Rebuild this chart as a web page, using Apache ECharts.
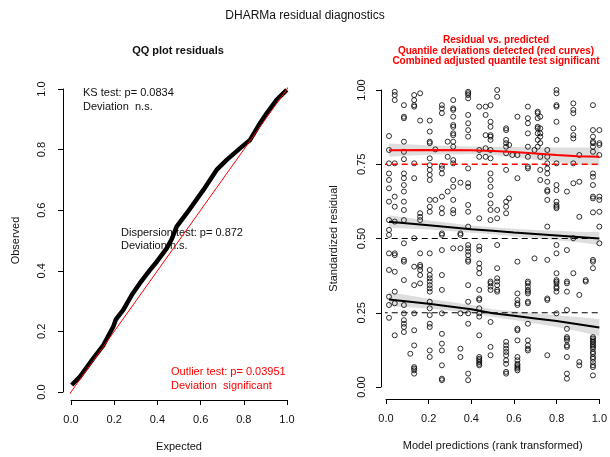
<!DOCTYPE html>
<html>
<head>
<meta charset="utf-8">
<script src="https://cdn.jsdelivr.net/npm/echarts@6/dist/echarts.min.js"></script>
<style>
  html, body { margin: 0; padding: 0; background: #fff; }
  #chart { width: 610px; height: 457px; }
</style>
</head>
<body>
<div id="chart"></div>
<script>
// QQ plot: expected vs observed quantiles
const qqExpected = [0.003, 0.042, 0.103, 0.150, 0.196, 0.208, 0.242, 0.281, 0.319, 0.366, 0.397, 0.443,
  0.466, 0.489, 0.536, 0.613, 0.674, 0.721, 0.782, 0.829, 0.875, 0.906, 0.952, 0.999];
const qqObserved = [0.023, 0.051, 0.111, 0.155, 0.216, 0.240, 0.271, 0.320, 0.359, 0.403, 0.430, 0.474,
  0.504, 0.546, 0.590, 0.667, 0.733, 0.766, 0.804, 0.832, 0.887, 0.920, 0.964, 0.997];
const refLine = [-0.03, 1.04];

// residual vs predicted: columns of tied rank-transformed predictions
const colX = [0.014, 0.041, 0.084, 0.114, 0.132, 0.160, 0.205, 0.231, 0.262, 0.289, 0.315, 0.349, 0.385,
  0.437, 0.467, 0.490, 0.521, 0.563, 0.577, 0.592, 0.616, 0.665, 0.696, 0.711, 0.723, 0.756, 0.799,
  0.848, 0.878, 0.906, 0.936, 0.970, 1.000];
const colY = [
  [0.845, 0.798, 0.753, 0.719, 0.697, 0.669, 0.624, 0.562, 0.529, 0.512, 0.450, 0.394, 0.304, 0.276, 0.233],
  [0.994, 0.983, 0.966, 0.753, 0.641, 0.607, 0.557, 0.450, 0.444, 0.388, 0.321, 0.282, 0.174],
  [0.949, 0.910, 0.905, 0.826, 0.792, 0.767, 0.719, 0.703, 0.680, 0.658, 0.624, 0.596, 0.562, 0.484, 0.428, 0.422, 0.360, 0.276, 0.248, 0.225, 0.213, 0.202, 0.185],
  [0.112],
  [0.983, 0.966, 0.949, 0.944, 0.753, 0.703, 0.501, 0.405, 0.343, 0.248, 0.191, 0.140, 0.067, 0.062, 0.056, 0.045],
  [0.989, 0.897, 0.585, 0.573, 0.562, 0.450, 0.411, 0.405, 0.394, 0.377, 0.349],
  [0.897, 0.860, 0.826, 0.821, 0.770, 0.747, 0.731, 0.714, 0.697, 0.630, 0.607, 0.590, 0.450, 0.394, 0.377, 0.366, 0.355, 0.343, 0.332, 0.321, 0.287, 0.265, 0.242, 0.213, 0.202, 0.123, 0.101],
  [0.800, 0.630],
  [0.949, 0.938, 0.922, 0.745, 0.736, 0.719, 0.641, 0.602, 0.585, 0.517, 0.512, 0.461, 0.377, 0.327, 0.248, 0.179, 0.146, 0.123, 0.073, 0.028, 0.023],
  [0.826, 0.775, 0.658],
  [0.966, 0.938, 0.933, 0.910, 0.882, 0.876, 0.854, 0.848, 0.826, 0.809, 0.764, 0.753, 0.697, 0.674, 0.630, 0.596, 0.585, 0.467],
  [0.688, 0.517, 0.512, 0.467, 0.248, 0.129, 0.101],
  [0.994, 0.989, 0.983, 0.972, 0.916, 0.888, 0.865, 0.843, 0.736, 0.686, 0.674, 0.613, 0.590, 0.540, 0.478, 0.467, 0.456, 0.444, 0.428, 0.422, 0.343, 0.287, 0.248, 0.213, 0.045, 0.023],
  [0.944, 0.798, 0.775, 0.568, 0.473, 0.461, 0.416, 0.400, 0.383, 0.327, 0.298, 0.293, 0.265, 0.248, 0.237, 0.174, 0.101, 0.095, 0.090, 0.084, 0.078, 0.073],
  [0.944, 0.916, 0.848, 0.804, 0.775],
  [0.949, 0.893, 0.876, 0.848, 0.843, 0.832, 0.798, 0.770, 0.719, 0.697, 0.674, 0.646, 0.618, 0.596, 0.562, 0.355, 0.349, 0.338, 0.327, 0.219, 0.135, 0.107],
  [1.000, 0.977, 0.596, 0.568, 0.478, 0.400, 0.366, 0.355, 0.343, 0.327, 0.321],
  [0.871, 0.865, 0.832, 0.821, 0.809, 0.787, 0.731, 0.624, 0.607, 0.585, 0.152, 0.140, 0.129, 0.118, 0.107, 0.090, 0.078, 0.051, 0.045],
  [0.815, 0.635],
  [0.781],
  [0.910, 0.781, 0.703, 0.422, 0.315, 0.293, 0.282, 0.276, 0.196, 0.191, 0.157, 0.101, 0.090, 0.078, 0.073, 0.067, 0.062, 0.056],
  [0.944, 0.905, 0.888, 0.854, 0.809, 0.775, 0.742, 0.736, 0.355, 0.349, 0.338, 0.327, 0.321, 0.315, 0.287, 0.282, 0.213, 0.157, 0.140, 0.129, 0.123],
  [0.798, 0.433],
  [0.927, 0.922, 0.905, 0.876, 0.871, 0.854, 0.832, 0.809],
  [0.910, 0.871, 0.854, 0.843, 0.821, 0.775, 0.731, 0.697],
  [0.798, 0.775, 0.753, 0.736, 0.719, 0.691, 0.663, 0.658, 0.630, 0.540, 0.428, 0.298, 0.293, 0.107],
  [1.000, 0.989, 0.949, 0.944, 0.893, 0.832, 0.753, 0.680, 0.663, 0.624, 0.613, 0.607, 0.602, 0.478, 0.450, 0.383, 0.360, 0.355, 0.349, 0.338, 0.332, 0.321, 0.248],
  [0.658, 0.461, 0.355, 0.349, 0.321, 0.259, 0.196, 0.168, 0.163, 0.157, 0.140, 0.135, 0.101, 0.045, 0.028],
  [0.955, 0.933, 0.922, 0.871, 0.848, 0.837, 0.753, 0.686, 0.501, 0.383],
  [0.781, 0.691, 0.573, 0.310, 0.084, 0.073],
  [0.360, 0.355],
  [0.949, 0.865, 0.843, 0.826, 0.821, 0.809, 0.792, 0.719, 0.708, 0.680, 0.641, 0.635, 0.588, 0.428, 0.422, 0.400, 0.168, 0.163, 0.157, 0.152, 0.146, 0.140, 0.135, 0.129, 0.118, 0.112, 0.101, 0.095, 0.084, 0.073, 0.067, 0.039],
  [0.865, 0.821, 0.815, 0.781, 0.641, 0.630, 0.590, 0.540, 0.484]
];

// fitted quantile curves with their bands
const quantX = [0.014, 0.2, 0.4, 0.5, 0.6, 0.7, 0.8, 0.9, 1.0];
const q75Fit = [0.797, 0.798, 0.797, 0.795, 0.791, 0.786, 0.781, 0.777, 0.775];
const q75Lo = [0.775, 0.782, 0.784, 0.781, 0.774, 0.765, 0.757, 0.750, 0.745];
const q75Hi = [0.820, 0.814, 0.810, 0.809, 0.808, 0.807, 0.806, 0.806, 0.806];
const q50Fit = [0.556, 0.545, 0.531, 0.526, 0.520, 0.515, 0.510, 0.505, 0.500];
const q50Lo = [0.536, 0.530, 0.519, 0.514, 0.507, 0.501, 0.494, 0.487, 0.478];
const q50Hi = [0.578, 0.561, 0.544, 0.538, 0.533, 0.529, 0.526, 0.523, 0.522];
const q25Fit = [0.295, 0.280, 0.262, 0.248, 0.240, 0.231, 0.222, 0.211, 0.200];
const q25Lo = [0.272, 0.264, 0.249, 0.236, 0.226, 0.214, 0.202, 0.188, 0.172];
const q25Hi = [0.320, 0.297, 0.276, 0.262, 0.255, 0.248, 0.242, 0.236, 0.229];
const hLines = [0.25, 0.5, 0.75];
const hRange = [-0.02, 1.04];

const FONT = '"Liberation Sans", Arial, Helvetica, sans-serif';
const INK = '#111';
const RED = '#ff0000';

const chart = echarts.init(document.getElementById('chart'));

function axisBase(grid, offset, margin, digits, name, gap) {
  return {
    gridIndex: grid,
    type: 'value',
    min: 0,
    max: 1,
    offset: offset,
    name: name,
    nameLocation: 'middle',
    nameGap: gap,
    nameTextStyle: { color: INK, fontSize: 11, fontFamily: FONT },
    axisLine: { show: true, onZero: false, lineStyle: { color: '#000', width: 1 } },
    axisTick: { show: true, length: 5, lineStyle: { color: '#000' } },
    axisLabel: {
      margin: margin, color: INK, fontSize: 11, fontFamily: FONT,
      formatter: v => v.toFixed(digits)
    },
    splitLine: { show: false }
  };
}

// grey confidence band drawn as a polygon through the axis scales
function band(lo, hi) {
  return {
    type: 'custom', xAxisIndex: 1, yAxisIndex: 1, silent: true, z: 3,
    data: [[quantX[0], lo[0]]],
    renderItem: (params, api) => {
      const upper = quantX.map((x, i) => api.coord([x, hi[i]]));
      const lower = quantX.map((x, i) => api.coord([x, lo[i]])).reverse();
      return {
        type: 'polygon',
        shape: { points: upper.concat(lower) },
        style: { fill: 'rgba(0,0,0,0.13)' }
      };
    }
  };
}

function curve(fit, color) {
  return {
    type: 'line', xAxisIndex: 1, yAxisIndex: 1, symbol: 'none', z: 5,
    lineStyle: { color: color, width: 2 },
    data: quantX.map((x, i) => [x, fit[i]])
  };
}

const scatterData = colX.flatMap((x, i) => colY[i].map(y => [x, y]));

const xL = axisBase(0, 8, 14, 1, 'Expected', 41);
xL.interval = 0.2;
const yL = axisBase(0, 8, 16, 1, 'Observed', 42);
yL.interval = 0.2;
yL.axisLabel.rotate = 90;
const xR = axisBase(1, 12, 14, 1, 'Model predictions (rank transformed)', 41);
xR.interval = 0.2;
const yR = axisBase(1, 5, 14, 2, 'Standardized residual', 42);
yR.interval = 0.25;
yR.axisLabel.rotate = 90;

function txt(x, y, text, opts) {
  opts = opts || {};
  return {
    type: 'text', x: x, y: y, silent: true,
    style: {
      text: text,
      fill: opts.color || INK,
      font: (opts.bold ? 'bold ' : '') + (opts.size || 11) + 'px ' + FONT,
      align: opts.align || 'left',
      verticalAlign: 'middle'
    }
  };
}

const option = {
  animation: false,
  backgroundColor: '#fff',
  grid: [
    { left: 71, top: 89, width: 216, height: 303 },
    { left: 386, top: 90, width: 219, height: 297 }
  ],
  xAxis: [xL, xR],
  yAxis: [yL, yR],
  graphic: [
    txt(305, 16, 'DHARMa residual diagnostics', { size: 12, align: 'center' }),
    txt(178, 51, 'QQ plot residuals', { bold: true, size: 11, align: 'center' }),
    txt(83, 93, 'KS test: p= 0.0834'),
    txt(83, 107, 'Deviation  n.s.'),
    txt(121, 232.5, 'Dispersion test: p= 0.872'),
    txt(121, 246, 'Deviation n.s.'),
    txt(171, 372, 'Outlier test: p= 0.03951', { color: RED }),
    txt(171, 386, 'Deviation  significant', { color: RED }),
    txt(496, 40, 'Residual vs. predicted', { bold: true, size: 10, align: 'center', color: RED }),
    txt(496, 51, 'Quantile deviations detected (red curves)', { bold: true, size: 10, align: 'center', color: RED }),
    txt(496, 61.5, 'Combined adjusted quantile test significant', { bold: true, size: 10, align: 'center', color: RED })
  ],
  series: [
    {
      type: 'line', xAxisIndex: 0, yAxisIndex: 0, symbol: 'none', z: 2,
      lineStyle: { color: '#000', width: 4.5 },
      data: qqExpected.map((x, i) => [x, qqObserved[i]])
    },
    {
      type: 'line', xAxisIndex: 0, yAxisIndex: 0, symbol: 'none', clip: false, z: 4,
      lineStyle: { color: RED, width: 1 },
      data: [[refLine[0], refLine[0]], [refLine[1], refLine[1]]]
    },
    {
      type: 'scatter', xAxisIndex: 1, yAxisIndex: 1, symbol: 'circle', symbolSize: 5, z: 2,
      itemStyle: { color: 'rgba(255,255,255,0)', borderColor: '#000', borderWidth: 1 },
      data: scatterData
    },
    ...hLines.map(h => ({
      type: 'line', xAxisIndex: 1, yAxisIndex: 1, symbol: 'none', clip: false, z: 4,
      lineStyle: { color: h === 0.75 ? RED : '#000', width: h === 0.75 ? 1.5 : 1, type: [6, 4] },
      data: hRange.map(x => [x, h])
    })),
    band(q75Lo, q75Hi),
    band(q50Lo, q50Hi),
    band(q25Lo, q25Hi),
    curve(q75Fit, RED),
    curve(q50Fit, '#000'),
    curve(q25Fit, '#000')
  ]
};

chart.setOption(option);
</script>
</body>
</html>
